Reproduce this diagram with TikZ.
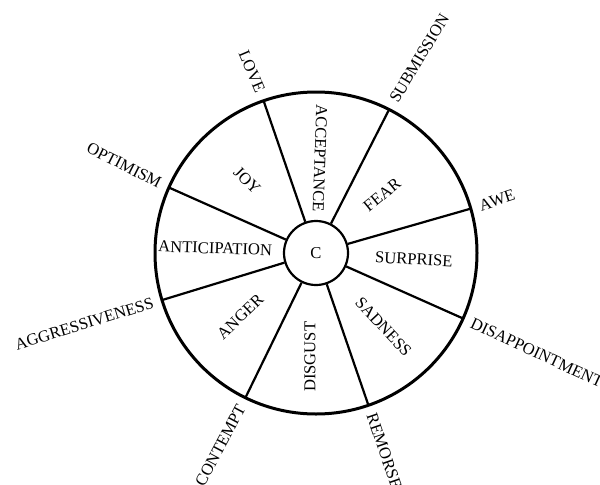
\documentclass[tikz,border=0pt]{standalone}
\usepackage{fontspec}
\setmainfont{Liberation Serif}

\begin{document}
\begin{tikzpicture}[x=0.5pt,y=0.5pt,
    wheel/.style={black,line width=1.5pt},
    spoke/.style={black,line width=1.1pt},
    lbl/.style={font=\fontsize{8.3}{10}\selectfont,inner sep=0pt}]
  \useasboundingbox (0,0) rectangle (600,484);

  \begin{scope}[shift={(316,231)}]
    % hub and rim
    \node[draw,circle,line width=1.1pt,minimum size=32pt,inner sep=0pt,
          font=\fontsize{8.3}{10}\selectfont] (c) at (0,0) {C};
    \draw[wheel] (0,0) circle (80.5pt);

    % spokes from the hub to the rim
    \foreach \a/\n in {109/love, 63/sub, 16/awe, -24/disap, -71/rem, 244/con, 197/agg, 156/opt} {
      \coordinate (rim-\n) at (\a:161);
      \draw[spoke] (c.\a) -- (rim-\n);
    }

    % primary emotions inside the wheel
    \foreach \a/\d/\r/\n/\t in {133.5/100/-45/joy/JOY, 87.6/95/-92/acc/ACCEPTANCE,
        41.4/88/39/fear/FEAR, -3.7/98/-3/sur/SURPRISE, -47.6/100/-47/sad/SADNESS,
        -93.3/104/90/disg/DISGUST, 220/99/44/ang/ANGER, 177.3/101/-2/ant/ANTICIPATION} {
      \node[lbl,rotate=\r] (\n) at (\a:\d) {\t};
    }

    % dyads outside the wheel
    \foreach \a/\r/\s/\n/\t in {109/-67/east/love/LOVE, 63/59/west/sub/SUBMISSION,
        16/18/west/awe/AWE, -24/-25/west/disap/DISAPPOINTMENT, -71/-71/west/rem/REMORSE,
        244/62/east/con/CONTEMPT, 197/17/east/agg/AGGRESSIVENESS, 156/-27/east/opt/OPTIMISM} {
      \node[lbl,anchor=\s,rotate=\r] (\n) at (\a:170) {\t};
    }
  \end{scope}
\end{tikzpicture}
\end{document}
